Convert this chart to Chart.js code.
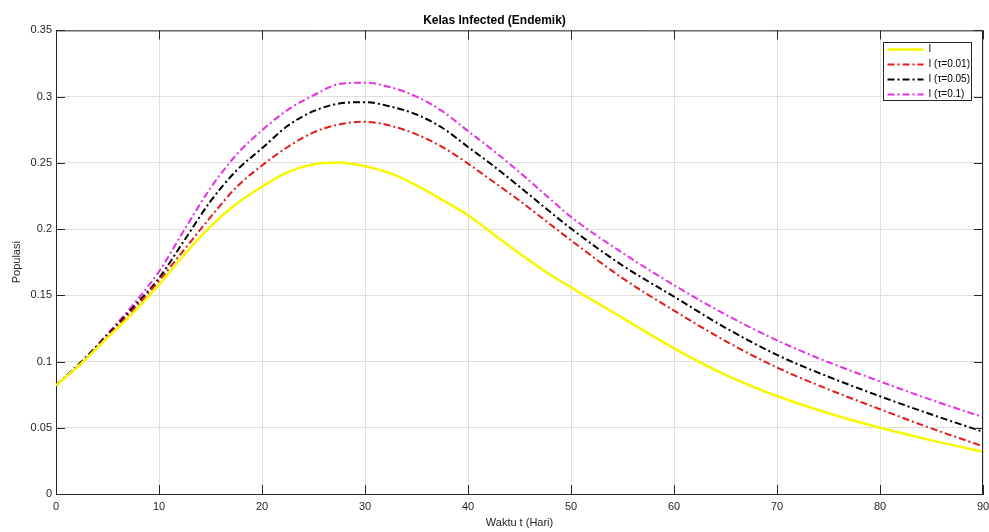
<!DOCTYPE html>
<html>
<head>
<meta charset="utf-8">
<title>Kelas Infected (Endemik)</title>
<script src="https://cdn.jsdelivr.net/npm/chart.js@4.4.1/dist/chart.umd.min.js"></script>
<style>
  body { margin: 0; background: #fff; }
  #box { width: 989px; height: 532px; }
</style>
</head>
<body>
<div id="box"><canvas id="grafik" width="989" height="532"></canvas></div>
<script>
// waktu (hari)
var t = [0, 2.5, 5, 7.5, 10, 12.5, 15, 17.5, 20, 22.5, 25, 27.5, 30, 32.5, 35, 37.5, 40, 42.5, 45, 47.5, 50, 55, 60, 65, 70, 75, 80, 85, 90];
// I tanpa tundaan
var iBase = [0.082, 0.099, 0.118, 0.137, 0.158, 0.181, 0.202, 0.219, 0.232, 0.243, 0.249, 0.2503, 0.2475, 0.242, 0.233, 0.222, 0.2105, 0.196, 0.1815, 0.168, 0.156, 0.133, 0.110, 0.090, 0.074, 0.061, 0.050, 0.0405, 0.032];
// tau = 0.01
var iTau001 = [0.082, 0.099, 0.119, 0.139, 0.161, 0.185, 0.209, 0.2315, 0.248, 0.262, 0.273, 0.279, 0.281, 0.278, 0.2715, 0.262, 0.2494, 0.2355, 0.2215, 0.2065, 0.1915, 0.163, 0.1385, 0.1155, 0.0955, 0.079, 0.064, 0.0495, 0.036];
// tau = 0.05
var iTau005 = [0.082, 0.1, 0.12, 0.141, 0.163, 0.192, 0.221, 0.244, 0.261, 0.278, 0.289, 0.2948, 0.2958, 0.2925, 0.2865, 0.2765, 0.262, 0.2475, 0.232, 0.216, 0.2004, 0.1725, 0.149, 0.1255, 0.105, 0.0885, 0.0738, 0.06, 0.047];
// tau = 0.1
var iTau01 = [0.082, 0.1, 0.121, 0.143, 0.168, 0.2, 0.231, 0.256, 0.2746, 0.29, 0.301, 0.3095, 0.3105, 0.307, 0.300, 0.289, 0.274, 0.259, 0.243, 0.226, 0.2092, 0.182, 0.1577, 0.1355, 0.116, 0.0995, 0.085, 0.071, 0.058];

var labelSeri = ["I", "I (\u03c4=0.01)", "I (\u03c4=0.05)", "I (\u03c4=0.1)"];
var xTicks = [0, 10, 20, 30, 40, 50, 60, 70, 80, 90];
var yTicks = [0, 0.05, 0.1, 0.15, 0.2, 0.25, 0.3, 0.35];

var axisCol = "#262626";
var fontFam = "'Liberation Sans', Arial, sans-serif";
var padLegend = 3;
var padLabel = 5;

function titik(arr) {
  return arr.map(function (v, i) { return { x: t[i], y: v }; });
}

function seri(label, arr, warna, lebar, dash) {
  return {
    label: label,
    data: titik(arr),
    borderColor: warna,
    backgroundColor: warna,
    borderWidth: lebar,
    borderDash: dash,
    pointRadius: 0,
    pointStyle: "line",
    cubicInterpolationMode: "monotone",
    fill: false
  };
}

// kotak axes + tick ke dalam (gaya matlab)
var bingkai = {
  id: "bingkai",
  afterDatasetsDraw: function (chart) {
    var ctx = chart.ctx, a = chart.chartArea;
    var sx = chart.scales.x, sy = chart.scales.y;
    var tl = 9;
    ctx.save();
    ctx.strokeStyle = axisCol;
    ctx.lineWidth = 1;
    ctx.beginPath();
    ctx.moveTo(a.left, a.top + 0.5); ctx.lineTo(a.right, a.top + 0.5);
    ctx.moveTo(a.right - 0.5, a.top); ctx.lineTo(a.right - 0.5, a.bottom);
    xTicks.forEach(function (v) {
      var px = Math.round(sx.getPixelForValue(v)) + 0.5;
      ctx.moveTo(px, a.bottom); ctx.lineTo(px, a.bottom - tl);
      ctx.moveTo(px, a.top); ctx.lineTo(px, a.top + tl);
    });
    yTicks.forEach(function (v) {
      var py = Math.round(sy.getPixelForValue(v)) + 0.5;
      ctx.moveTo(a.left, py); ctx.lineTo(a.left + tl, py);
      ctx.moveTo(a.right, py); ctx.lineTo(a.right - tl, py);
    });
    ctx.stroke();
    ctx.restore();
  }
};

// pindahkan legend ke pojok kanan atas, beri latar putih + garis tepi
var kotakLegend = {
  id: "kotakLegend",
  afterLayout: function (chart) {
    var lg = chart.legend, a = chart.chartArea;
    if (!lg || !lg.columnSizes || !lg.columnSizes.length) return;
    lg.width = lg.columnSizes[0].width + 2 * padLegend;
    lg.height = lg.columnSizes[0].height + 2 * padLegend;
    lg.left = a.right - 12 - lg.width;
    lg.right = lg.left + lg.width;
    lg.top = a.top + 9;
    lg.bottom = lg.top + lg.height;
    lg._kotakH = lg.columnSizes[0].height - padLabel + padLegend;
    if (!lg._dibungkus) {
      var asli = lg.draw;
      lg.draw = function () {
        var c = this.ctx;
        var y0 = Math.round(this.top) + 3;
        c.save();
        c.fillStyle = "#fff";
        c.fillRect(this.left, y0, this.width, this._kotakH);
        c.strokeStyle = axisCol;
        c.lineWidth = 1;
        c.strokeRect(Math.round(this.left) + 0.5, y0 + 0.5, Math.round(this.width), Math.round(this._kotakH));
        c.restore();
        asli.apply(this, arguments);
      };
      lg._dibungkus = true;
    }
  }
};

var ctx = document.getElementById("grafik").getContext("2d");
var grafik = new Chart(ctx, {
  type: "line",
  data: {
    datasets: [
      seri(labelSeri[0], iBase, "#f7f700", 2.5, []),
      seri(labelSeri[1], iTau001, "#e31a1a", 2, [7, 3, 2, 3]),
      seri(labelSeri[2], iTau005, "#000000", 2, [7, 3, 2, 3]),
      seri(labelSeri[3], iTau01, "#e62ee6", 2, [7, 3, 2, 3])
    ]
  },
  options: {
    responsive: false,
    animation: false,
    layout: { padding: 0 },
    plugins: {
      title: {
        display: true,
        text: "Kelas Infected (Endemik)",
        color: "#000",
        font: { family: fontFam, size: 12, weight: "bold", lineHeight: 1.2 },
        padding: { top: 13, bottom: 3 }
      },
      legend: {
        position: "chartArea",
        align: "start",
        padding: padLegend,
        labels: {
          usePointStyle: true,
          pointStyle: "line",
          pointStyleWidth: 36,
          boxHeight: 8,
          padding: padLabel,
          color: "#000",
          font: { family: fontFam, size: 10, lineHeight: 1.2 },
          generateLabels: function (chart) {
            var items = Chart.defaults.plugins.legend.labels.generateLabels(chart);
            items.forEach(function (it) {
              var ds = chart.data.datasets[it.datasetIndex];
              it.lineDash = ds.borderDash;
              it.lineWidth = ds.borderWidth;
              it.strokeStyle = ds.borderColor;
            });
            return items;
          }
        }
      },
      tooltip: { enabled: false }
    },
    scales: {
      x: {
        type: "linear",
        min: 0,
        max: 90,
        afterFit: function (s) { s.height = 38; s.paddingRight = 6; s.paddingLeft = 0; },
        ticks: { stepSize: 10, padding: 6, color: axisCol, font: { family: fontFam, size: 11 } },
        grid: { color: "#dfdfdf", drawTicks: false },
        border: { color: axisCol, width: 1 },
        title: {
          display: true,
          text: "Waktu t (Hari)",
          color: axisCol,
          font: { family: fontFam, size: 11, lineHeight: 1.2 },
          padding: { top: 0, bottom: 2 }
        }
      },
      y: {
        min: 0,
        max: 0.35,
        afterFit: function (s) { s.width = 56; },
        ticks: {
          stepSize: 0.05,
          padding: 4,
          color: axisCol,
          font: { family: fontFam, size: 11 },
          callback: function (v) { return String(+v.toFixed(2)); }
        },
        grid: { color: "#dfdfdf", drawTicks: false },
        border: { color: axisCol, width: 1 },
        title: {
          display: true,
          text: "Populasi",
          color: axisCol,
          font: { family: fontFam, size: 11, lineHeight: 1.2 },
          padding: { top: 10, bottom: 0 }
        }
      }
    }
  },
  plugins: [bingkai, kotakLegend]
});
</script>
</body>
</html>
